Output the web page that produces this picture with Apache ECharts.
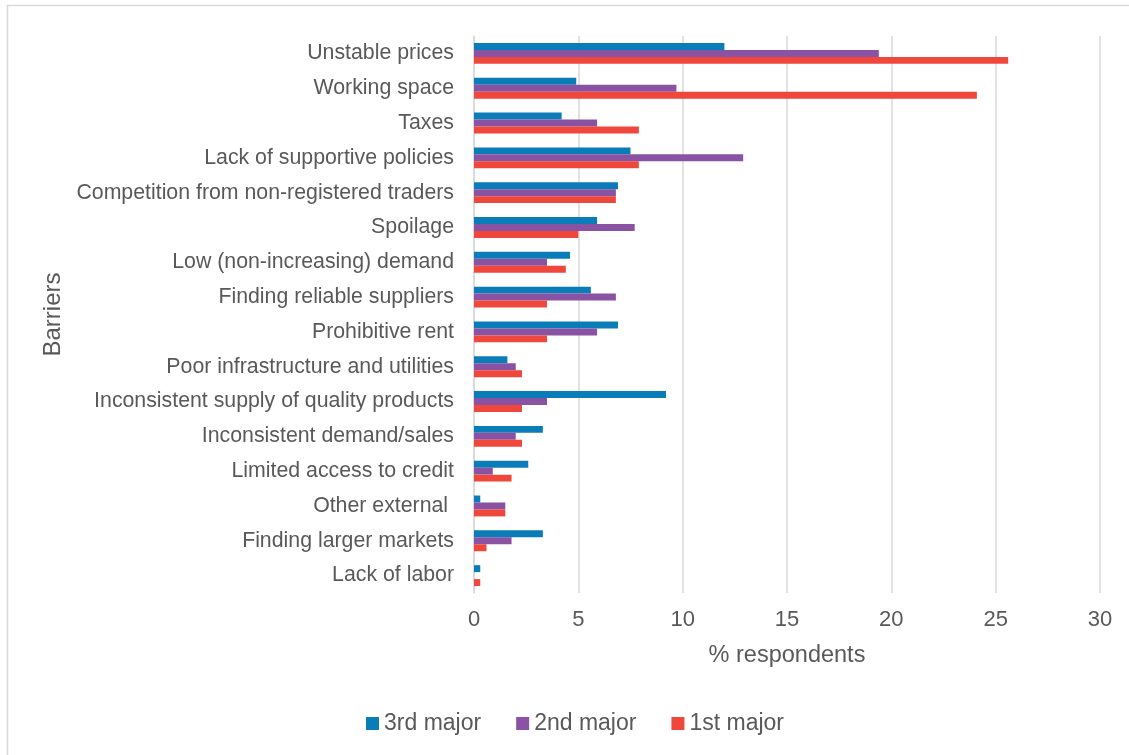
<!DOCTYPE html>
<html>
<head>
<meta charset="utf-8">
<title>Barriers</title>
<script src="https://cdn.jsdelivr.net/npm/echarts@6/dist/echarts.min.js"></script>
<style>
  html, body { margin: 0; padding: 0; background: #ffffff; }
  #chart { width: 1129px; height: 755px; }
</style>
</head>
<body>
<div id="chart"></div>
<script>
// Barriers, listed top to bottom
const categories = [
  'Unstable prices',
  'Working space',
  'Taxes',
  'Lack of supportive policies',
  'Competition from non-registered traders',
  'Spoilage',
  'Low (non-increasing) demand',
  'Finding reliable suppliers',
  'Prohibitive rent',
  'Poor infrastructure and utilities',
  'Inconsistent supply of quality products',
  'Inconsistent demand/sales',
  'Limited access to credit',
  'Other external ',
  'Finding larger markets',
  'Lack of labor'
];

// % respondents naming each barrier as their 3rd / 2nd / 1st major one
const thirdMajor  = [12.0, 4.9, 4.2, 7.5, 6.9, 5.9, 4.6, 5.6, 6.9, 1.6, 9.2, 3.3, 2.6, 0.3, 3.3, 0.3];
const secondMajor = [19.4, 9.7, 5.9, 12.9, 6.8, 7.7, 3.5, 6.8, 5.9, 2.0, 3.5, 2.0, 0.9, 1.5, 1.8, 0.0];
const firstMajor  = [25.6, 24.1, 7.9, 7.9, 6.8, 5.0, 4.4, 3.5, 3.5, 2.3, 2.3, 2.3, 1.8, 1.5, 0.6, 0.3];

const seriesNames = ['3rd major', '2nd major', '1st major'];
const xTicks = { min: 0, max: 30, interval: 5 };

const textColor = '#595959';
const fontFamily = '"Liberation Sans", Arial, sans-serif';

const chart = echarts.init(document.getElementById('chart'));

function barSeries(name, data, color) {
  return {
    name: name,
    type: 'bar',
    data: data,
    barGap: '0%',
    barCategoryGap: '40%',
    itemStyle: { color: color },
    emphasis: { disabled: true }
  };
}

chart.setOption({
  animation: false,
  textStyle: { fontFamily: fontFamily },
  graphic: [{
    type: 'rect',
    shape: { x: 7.5, y: 5.5, width: 1300, height: 900 },
    style: { fill: 'none', stroke: '#d9d9d9', lineWidth: 1.5 },
    silent: true
  }],
  grid: { left: 474, right: 29, top: 36, bottom: 162, containLabel: false },
  legend: {
    data: seriesNames,
    top: 707,
    left: 361,
    itemWidth: 13,
    itemHeight: 13,
    itemGap: 35,
    icon: 'rect',
    textStyle: { color: textColor, fontSize: 23, fontFamily: fontFamily }
  },
  xAxis: {
    type: 'value',
    min: xTicks.min,
    max: xTicks.max,
    interval: xTicks.interval,
    name: '% respondents',
    nameLocation: 'middle',
    nameGap: 51,
    nameTextStyle: { color: textColor, fontSize: 23.5, fontFamily: fontFamily },
    axisLine: { show: false },
    axisTick: { show: false },
    axisLabel: { color: textColor, fontSize: 22, margin: 16, fontFamily: fontFamily },
    splitLine: { show: true, lineStyle: { color: '#d9d9d9', width: 1.5 } }
  },
  yAxis: {
    type: 'category',
    data: categories,
    inverse: true,
    name: 'Barriers',
    nameLocation: 'middle',
    nameGap: 406,
    nameRotate: 90,
    nameTextStyle: { color: textColor, fontSize: 24, fontFamily: fontFamily },
    axisLine: { show: true, lineStyle: { color: '#d9d9d9', width: 1.5 } },
    axisTick: { show: false },
    axisLabel: { color: textColor, fontSize: 21.3, margin: 20, fontFamily: fontFamily },
    splitLine: { show: false }
  },
  series: [
    barSeries(seriesNames[0], thirdMajor, '#0a7db8'),
    barSeries(seriesNames[1], secondMajor, '#8a52a2'),
    barSeries(seriesNames[2], firstMajor, '#ef473c')
  ]
});
</script>
</body>
</html>
